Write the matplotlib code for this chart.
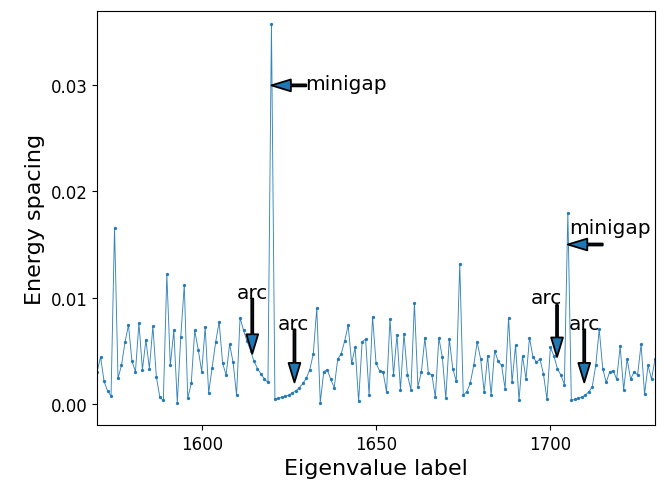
# Energy spacing between neighbouring eigenvalues, with the minigaps and arcs marked.
import numpy as np
import matplotlib.pyplot as plt

# Data
labels = np.arange(1570, 1732)
spacing = [0.0030, 0.0044, 0.0021, 0.0012, 0.0007, 0.0166, 0.0024, 0.0036, 0.0058, 0.0074,
           0.0040, 0.0030, 0.0076, 0.0032, 0.0060, 0.0033, 0.0073, 0.0025, 0.0006, 0.0003,
           0.0122, 0.0036, 0.0069, 0.0001, 0.0063, 0.0112, 0.0005, 0.0019, 0.0069, 0.0051,
           0.0030, 0.0072, 0.0010, 0.0034, 0.0058, 0.0077, 0.0038, 0.0027, 0.0056, 0.0039,
           0.0008, 0.0081, 0.0069, 0.0059, 0.0050, 0.0040, 0.0033, 0.0028, 0.0023, 0.0020,
           0.0358, 0.0004, 0.0005, 0.0006, 0.0007, 0.0008, 0.0010, 0.0012, 0.0015, 0.0019,
           0.0024, 0.0032, 0.0047, 0.0090, 0.0001, 0.0030, 0.0032, 0.0023, 0.0015, 0.0042,
           0.0047, 0.0059, 0.0074, 0.0038, 0.0053, 0.0002, 0.0058, 0.0061, 0.0008, 0.0082,
           0.0038, 0.0031, 0.0030, 0.0011, 0.0080, 0.0027, 0.0065, 0.0013, 0.0066, 0.0027,
           0.0013, 0.0095, 0.0016, 0.0030, 0.0062, 0.0029, 0.0027, 0.0006, 0.0062, 0.0044,
           0.0005, 0.0061, 0.0033, 0.0021, 0.0132, 0.0008, 0.0011, 0.0019, 0.0036, 0.0058,
           0.0042, 0.0011, 0.0045, 0.0008, 0.0050, 0.0040, 0.0036, 0.0014, 0.0081, 0.0020,
           0.0055, 0.0003, 0.0045, 0.0023, 0.0062, 0.0044, 0.0039, 0.0042, 0.0028, 0.0004,
           0.0053, 0.0045, 0.0033, 0.0027, 0.0018, 0.0180, 0.0003, 0.0004, 0.0005, 0.0006,
           0.0008, 0.0011, 0.0016, 0.0036, 0.0070, 0.0033, 0.0020, 0.0030, 0.0031, 0.0023,
           0.0054, 0.0013, 0.0042, 0.0023, 0.0030, 0.0027, 0.0056, 0.0009, 0.0036, 0.0023,
           0.0042, 0.0008]

# arrows: tip and tail points, and the labels that go with them
arrow_tips = [(1620, 0.0300), (1705, 0.0150), (1614.5, 0.0047), (1626.6, 0.0020),
              (1701.9, 0.0044), (1709.7, 0.0020)]
arrow_tails = [(1630, 0.0300), (1715, 0.0150), (1614.5, 0.0099), (1626.6, 0.0070),
               (1701.9, 0.0093), (1709.7, 0.0070)]
notes = [('minigap', 1629.8, 0.0302, 'left', 'center'),
         ('minigap', 1705.3, 0.0166, 'left', 'center'),
         ('arc', 1614.5, 0.0100, 'center', 'baseline'),
         ('arc', 1626.3, 0.0070, 'center', 'baseline'),
         ('arc', 1698.8, 0.0095, 'center', 'baseline'),
         ('arc', 1709.7, 0.0070, 'center', 'baseline')]

fig = plt.figure(figsize=(6.65, 4.85), dpi=100)
ax = fig.add_axes([0.146, 0.122, 0.839, 0.853])

ax.plot(labels, spacing, color='C0', lw=0.65, marker='o', markersize=1.4, alpha=0.9)

for tip, tail in zip(arrow_tips, arrow_tails):
    ax.annotate('', xy=tip, xytext=tail,
                arrowprops=dict(facecolor='C0', edgecolor='black', lw=1.3,
                                width=1.4, headwidth=8.5, headlength=14, shrink=0))
for txt, x, y, ha, va in notes:
    ax.text(x, y, txt, ha=ha, va=va, fontsize=14.5)

ax.set_xlim(1570, 1730)
ax.set_ylim(-0.002, 0.037)
ax.set_xticks([1600, 1650, 1700])
ax.set_yticks([0.0, 0.01, 0.02, 0.03])
ax.tick_params(labelsize=12)
ax.set_xlabel('Eigenvalue label', fontsize=16)
ax.set_ylabel('Energy spacing', fontsize=16)

fig.savefig('out.png', dpi=100)
